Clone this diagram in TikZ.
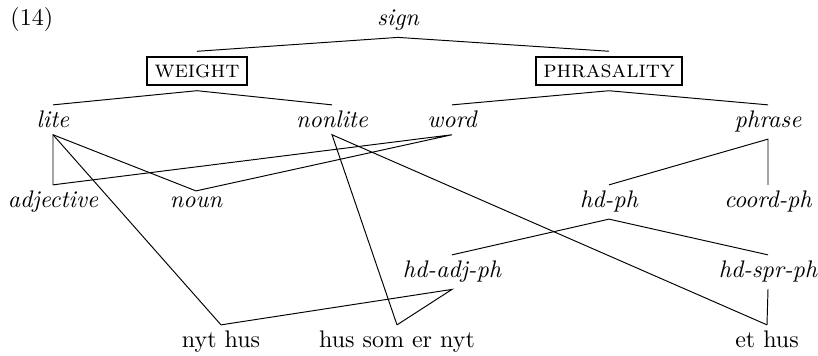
\documentclass[tikz,border=0pt]{standalone}
\begin{document}
\begin{tikzpicture}[x=0.4167pt,y=-0.4167pt,
  t/.style={anchor=base,inner sep=2.5pt,font=\itshape},
  r/.style={anchor=base,inner sep=2.5pt},
  bx/.style={draw,line width=0.7pt,inner sep=3pt,outer sep=2.5pt,font=\scshape},
  ln/.style={line width=0.4pt}]
\useasboundingbox (0,0) rectangle (818,356);
\node[anchor=base west,inner sep=0pt] (ex) at (10,26) {(14)};
\node[t] (sign) at (398,26) {sign};
\node[bx] (weight) at (197,71) {weight};
\node[bx] (phr) at (609,71) {phrasality};
\node[t] (lite) at (53,128) {lite};
\node[t] (nonlite) at (332,128) {nonlite};
\node[t] (word) at (452,128) {word};
\node[t] (phrase) at (768,128) {phrase};
\node[t] (adj) at (53,208) {adjective};
\node[t] (noun) at (196,208) {noun};
\node[t] (hdph) at (609,208) {hd-ph};
\node[t] (coord) at (768,208) {coord-ph};
\node[t] (hdadj) at (452,278) {hd-adj-ph};
\node[t] (hdspr) at (768,278) {hd-spr-ph};
\node[r] (nyt) at (221,348) {nyt hus};
\node[r] (som) at (397,348) {hus som er nyt};
\node[r] (et) at (767,348) {et hus};
\draw[ln] (weight.north) -- (sign.south) -- (phr.north);
\draw[ln] (lite.north) -- (weight.south) -- (nonlite.north);
\draw[ln] (word.north) -- (phr.south) -- (phrase.north);
\draw[ln] (adj.north) -- (lite.south) -- (noun.north);
\draw[ln] (lite.south) -- (nyt.north);
\draw[ln] (adj.north) -- (word.south) -- (noun.north);
\draw[ln] (som.north) -- (nonlite.south) -- (et.north);
\draw[ln] (hdph.north) -- (phrase.south) -- (coord.north);
\draw[ln] (hdadj.north) -- (hdph.south) -- (hdspr.north);
\draw[ln] (nyt.north) -- (hdadj.south) -- (som.north);
\draw[ln] (hdspr.south) -- (et.north);
\end{tikzpicture}
\end{document}
